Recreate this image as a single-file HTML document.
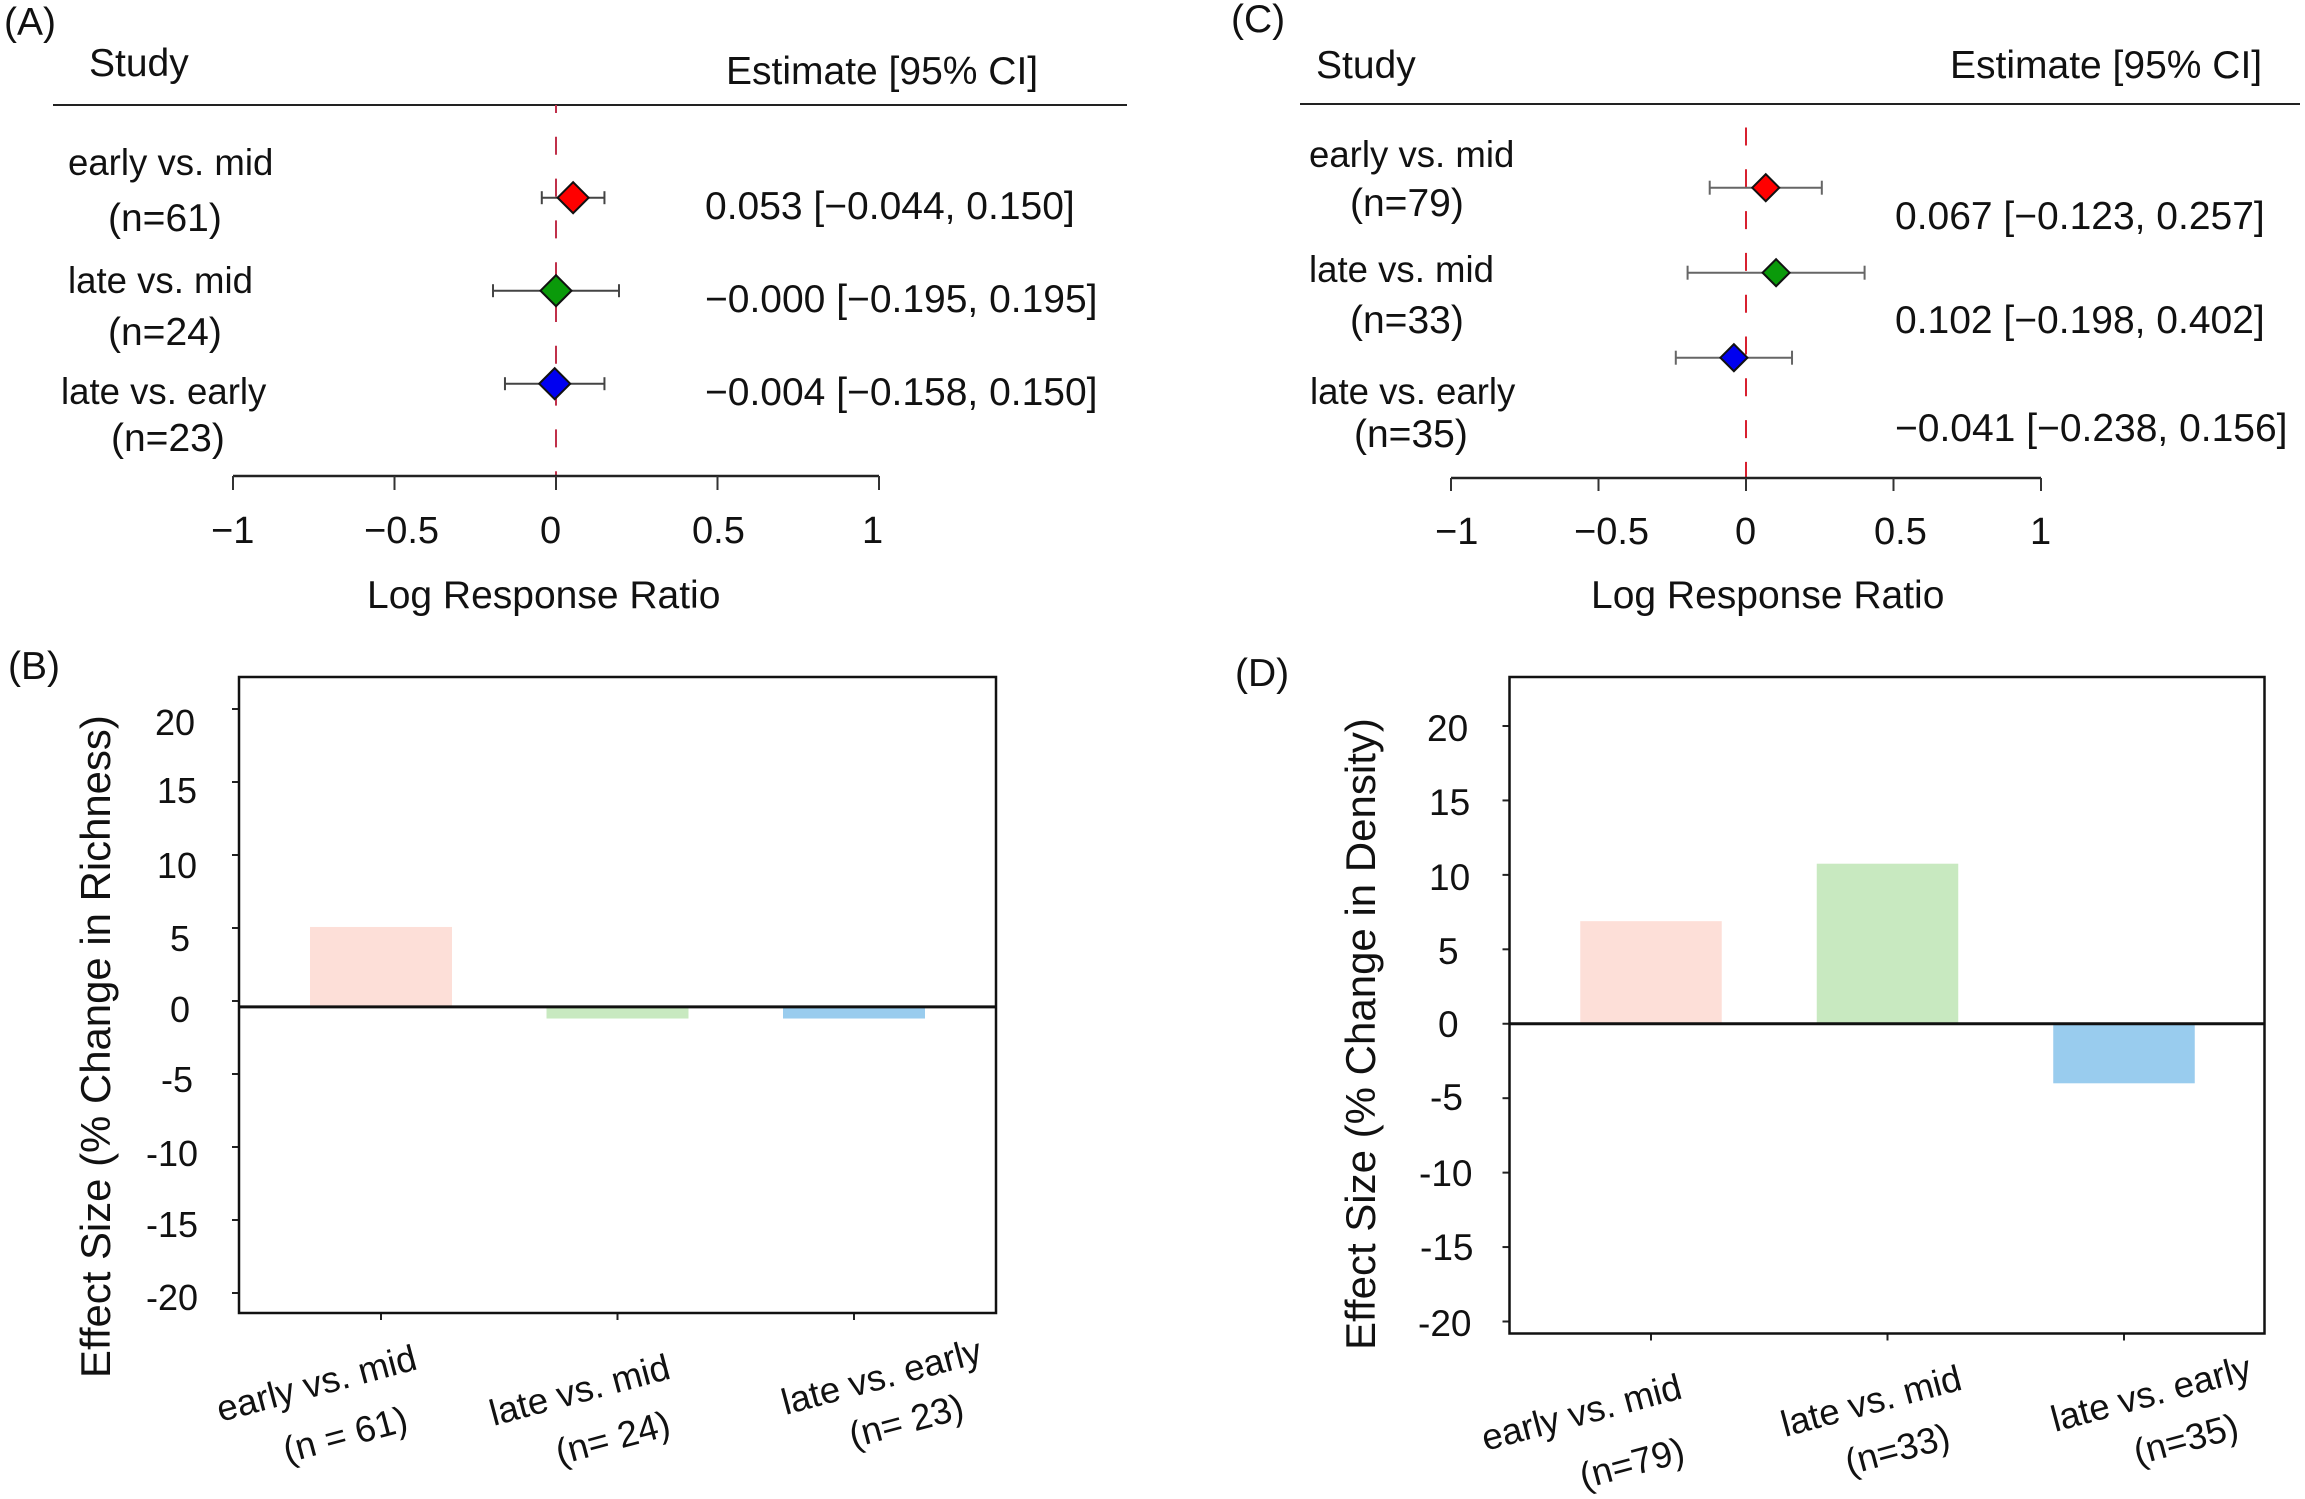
<!DOCTYPE html>
<html lang="en">
<head>
<meta charset="utf-8">
<title>Forest plots and effect size bar charts</title>
<style>
html,body{margin:0;padding:0;background:#fff;}
svg{display:block;}
text{font-family:"Liberation Sans",Arial,sans-serif;fill:#111;font-size:39px;}
.cat{font-size:36.6px;}
.tk{font-size:38px;}
.yb{font-size:36px;}
.yd{font-size:37px;}
.rot{font-size:36.6px;}
</style>
</head>
<body>
<svg id="figure" xmlns="http://www.w3.org/2000/svg" width="2305" height="1499" viewBox="0 0 2305 1499">
<rect x="0" y="0" width="2305" height="1499" fill="#fff"/>

<g id="panel-a">
  <text x="4" y="35">(A)</text>
  <text x="89" y="76">Study</text>
  <text x="726" y="84">Estimate [95% CI]</text>
  <line x1="53" x2="1127" y1="105" y2="105" stroke="#222" stroke-width="2"/>
  <text class="cat" x="68" y="175">early vs. mid</text>
  <text x="108" y="231">(n=61)</text>
  <text class="cat" x="68" y="293">late vs. mid</text>
  <text x="108" y="345">(n=24)</text>
  <text class="cat" x="61" y="404">late vs. early</text>
  <text x="111" y="451">(n=23)</text>
  <text x="705" y="219">0.053 [−0.044, 0.150]</text>
  <text x="705" y="312">−0.000 [−0.195, 0.195]</text>
  <text x="705" y="405">−0.004 [−0.158, 0.150]</text>
  <text class="tk" x="211" y="543">−1</text>
  <text class="tk" x="364" y="543">−0.5</text>
  <text class="tk" x="540" y="543">0</text>
  <text class="tk" x="692" y="543">0.5</text>
  <text class="tk" x="862" y="543">1</text>
  <text x="367" y="608">Log Response Ratio</text>
</g>

<g id="panel-c">
  <text x="1231" y="32">(C)</text>
  <text x="1316" y="78">Study</text>
  <text x="1950" y="78">Estimate [95% CI]</text>
  <line x1="1300" x2="2300" y1="104" y2="104" stroke="#222" stroke-width="2"/>
  <text class="cat" x="1309" y="167">early vs. mid</text>
  <text x="1350" y="216">(n=79)</text>
  <text class="cat" x="1309" y="282">late vs. mid</text>
  <text x="1350" y="333">(n=33)</text>
  <text class="cat" x="1310" y="404">late vs. early</text>
  <text x="1354" y="447">(n=35)</text>
  <text x="1895" y="229">0.067 [−0.123, 0.257]</text>
  <text x="1895" y="333">0.102 [−0.198, 0.402]</text>
  <text x="1895" y="441">−0.041 [−0.238, 0.156]</text>
  <text class="tk" x="1435" y="544">−1</text>
  <text class="tk" x="1574" y="544">−0.5</text>
  <text class="tk" x="1735" y="544">0</text>
  <text class="tk" x="1874" y="544">0.5</text>
  <text class="tk" x="2030" y="544">1</text>
  <text x="1591" y="608">Log Response Ratio</text>
</g>

<g id="panel-b">
  <text x="8" y="679">(B)</text>
  <text style="font-size:41.9px" transform="translate(110,1378) rotate(-90)">Effect Size (% Change in Richness)</text>
  <text class="yb" x="155" y="735">20</text>
  <text class="yb" x="157" y="803">15</text>
  <text class="yb" x="157" y="878">10</text>
  <text class="yb" x="170" y="951">5</text>
  <text class="yb" x="170" y="1022">0</text>
  <text class="yb" x="161" y="1092">-5</text>
  <text class="yb" x="146" y="1166">-10</text>
  <text class="yb" x="146" y="1237">-15</text>
  <text class="yb" x="146" y="1310">-20</text>
  <text class="rot" transform="translate(220.5,1422) rotate(-15)">early vs. mid</text>
  <text class="rot" transform="translate(287,1463) rotate(-15)">(n = 61)</text>
  <text class="rot" transform="translate(493.5,1426) rotate(-15)">late vs. mid</text>
  <text class="rot" transform="translate(559.5,1465) rotate(-15)">(n= 24)</text>
  <text class="rot" transform="translate(785.5,1415) rotate(-15)">late vs. early</text>
  <text class="rot" transform="translate(853,1448) rotate(-15)">(n= 23)</text>
</g>

<g id="panel-d">
  <text x="1235" y="686">(D)</text>
  <text style="font-size:42px" transform="translate(1375,1350) rotate(-90)">Effect Size (% Change in Density)</text>
  <text class="yd" x="1427" y="741">20</text>
  <text class="yd" x="1429" y="815">15</text>
  <text class="yd" x="1429" y="890">10</text>
  <text class="yd" x="1438" y="964">5</text>
  <text class="yd" x="1438" y="1037">0</text>
  <text class="yd" x="1430" y="1110">-5</text>
  <text class="yd" x="1419" y="1186">-10</text>
  <text class="yd" x="1420" y="1260">-15</text>
  <text class="yd" x="1418" y="1336">-20</text>
  <text class="rot" transform="translate(1485.5,1451) rotate(-15)">early vs. mid</text>
  <text class="rot" transform="translate(1583.5,1489) rotate(-15)">(n=79)</text>
  <text class="rot" transform="translate(1785,1437) rotate(-15)">late vs. mid</text>
  <text class="rot" transform="translate(1849,1475) rotate(-15)">(n=33)</text>
  <text class="rot" transform="translate(2055,1432) rotate(-15)">late vs. early</text>
  <text class="rot" transform="translate(2137.5,1465) rotate(-15)">(n=35)</text>
</g>
</svg>

<script>
// Panel A forest data
const forestAEstimates = [0.053, -0.000, -0.004];
const forestALower = [-0.044, -0.195, -0.158];
const forestAUpper = [0.150, 0.195, 0.150];
// Panel C forest data
const forestCEstimates = [0.067, 0.102, -0.041];
const forestCLower = [-0.123, -0.198, -0.238];
const forestCUpper = [0.257, 0.402, 0.156];
const forestTicks = [-1, -0.5, 0, 0.5, 1];
const forestFills = ['#ff0000', '#0a9a0a', '#0000f0'];
const forestRowNames = ['early-vs-mid', 'late-vs-mid', 'late-vs-early'];
// Panel B bar data
const barBValues = [5.07, -1.2, -1.2];
const barBBaseline = -0.4;
// Panel D bar data
const barDValues = [6.89, 10.75, -4.0];
const barDBaseline = 0;
const barTicks = [20, 15, 10, 5, 0, -5, -10, -15, -20];
const barFills = ['#fddfd8', '#c8e9c0', '#99ccee'];
const barNames = ['early-vs-mid', 'late-vs-mid', 'late-vs-early'];

const NS = 'http://www.w3.org/2000/svg';
function linear(d0, d1, r0, r1) {
  return function (v) { return r0 + (v - d0) * (r1 - r0) / (d1 - d0); };
}
function shape(parent, tag) {
  const el = document.createElementNS(NS, tag);
  parent.appendChild(el);
  return el;
}
function setLine(el, x1, y1, x2, y2, stroke, width) {
  el.setAttribute('x1', x1);
  el.setAttribute('y1', y1);
  el.setAttribute('x2', x2);
  el.setAttribute('y2', y2);
  el.setAttribute('stroke', stroke);
  el.setAttribute('stroke-width', width);
}

function drawForest(panelId, cfg, estimates, lower, upper) {
  const parent = document.getElementById(panelId);
  const x = linear(-1, 1, cfg.axisLeft, cfg.axisRight);
  const rowY = function (i) { return cfg.rowStart + i * cfg.rowStep; };

  const refLine = shape(parent, 'line');
  
  
  setLine(refLine, x(0), cfg.refTop, x(0), cfg.axisY, cfg.refColor, 2);
  refLine.setAttribute('stroke-dasharray', '18 23.8');
  refLine.setAttribute('stroke-dashoffset', cfg.refOffset);

  const axis = shape(parent, 'line');
  
  
  setLine(axis, x(forestTicks[0]), cfg.axisY, x(forestTicks[forestTicks.length - 1]), cfg.axisY, '#222', 2.5);

  forestTicks.forEach(function (t) {
    const tick = shape(parent, 'line');
    
    
    setLine(tick, x(t), cfg.axisY, x(t), cfg.axisY + cfg.tickLen, '#333', 2);
  });

  estimates.forEach(function (est, i) {
    const y = rowY(i);
    const whisker = shape(parent, 'line');
    
    
    setLine(whisker, x(lower[i]), y, x(upper[i]), y, cfg.ciColor, 2);

    const capLow = shape(parent, 'line');
    
    
    setLine(capLow, x(lower[i]), y - cfg.capHalf, x(lower[i]), y + cfg.capHalf, cfg.ciColor, 2);

    const capHigh = shape(parent, 'line');
    
    
    setLine(capHigh, x(upper[i]), y - cfg.capHalf, x(upper[i]), y + cfg.capHalf, cfg.ciColor, 2);

    const cx = x(est);
    const r = cfg.diamond;
    const diamond = shape(parent, 'polygon');
    
    
    diamond.setAttribute('points', (cx - r) + ',' + y + ' ' + cx + ',' + (y - r) + ' ' + (cx + r) + ',' + y + ' ' + cx + ',' + (y + r));
    diamond.setAttribute('fill', forestFills[i]);
    diamond.setAttribute('stroke', '#111');
    diamond.setAttribute('stroke-width', 2);
  });
}

function drawBars(panelId, cfg, values, baseline) {
  const parent = document.getElementById(panelId);
  const y = linear(-20, 20, cfg.tickBottom, cfg.tickTop);
  const x = function (i) { return cfg.firstCenter + i * cfg.step; };

  values.forEach(function (v, i) {
    const bar = shape(parent, 'rect');
    
    
    bar.setAttribute('x', x(i) - cfg.barWidth / 2);
    bar.setAttribute('width', cfg.barWidth);
    bar.setAttribute('y', Math.min(y(v), y(baseline)));
    bar.setAttribute('height', Math.abs(y(v) - y(baseline)));
    bar.setAttribute('fill', barFills[i]);
  });

  barTicks.forEach(function (t) {
    const tick = shape(parent, 'line');
    
    
    setLine(tick, cfg.boxLeft - 7, y(t), cfg.boxLeft, y(t), '#222', 2);
  });

  values.forEach(function (v, i) {
    const tick = shape(parent, 'line');
    
    
    setLine(tick, x(i), cfg.boxBottom, x(i), cfg.boxBottom + 7, '#222', 2);
  });

  const zero = shape(parent, 'line');
  
  
  setLine(zero, cfg.boxLeft, y(baseline), cfg.boxRight, y(baseline), '#111', 3);

  const box = shape(parent, 'rect');
  
  
  box.setAttribute('x', cfg.boxLeft);
  box.setAttribute('y', cfg.boxTop);
  box.setAttribute('width', cfg.boxRight - cfg.boxLeft);
  box.setAttribute('height', cfg.boxBottom - cfg.boxTop);
  box.setAttribute('fill', 'none');
  box.setAttribute('stroke', '#111');
  box.setAttribute('stroke-width', 2.5);
}

drawForest('panel-a', {axisLeft: 233, axisRight: 879, axisY: 476, tickLen: 14, rowStart: 197.7, rowStep: 93,
  refTop: 105, refColor: '#c0304a', refOffset: 10, ciColor: '#444', capHalf: 6.5, diamond: 15.5},
  forestAEstimates, forestALower, forestAUpper);
drawForest('panel-c', {axisLeft: 1451, axisRight: 2041, axisY: 478, tickLen: 13, rowStart: 187.7, rowStep: 85,
  refTop: 104, refColor: '#d8202f', refOffset: 18.3, ciColor: '#666', capHalf: 7, diamond: 13.5},
  forestCEstimates, forestCLower, forestCUpper);
drawBars('panel-b', {tickTop: 709, tickBottom: 1293, boxLeft: 239, boxRight: 996, boxTop: 677, boxBottom: 1313,
  firstCenter: 381, step: 236.5, barWidth: 142}, barBValues, barBBaseline);
drawBars('panel-d', {tickTop: 726, tickBottom: 1321.5, boxLeft: 1509.5, boxRight: 2264.5, boxTop: 677, boxBottom: 1333.5,
  firstCenter: 1651, step: 236.5, barWidth: 141.5}, barDValues, barDBaseline);
</script>
</body>
</html>
